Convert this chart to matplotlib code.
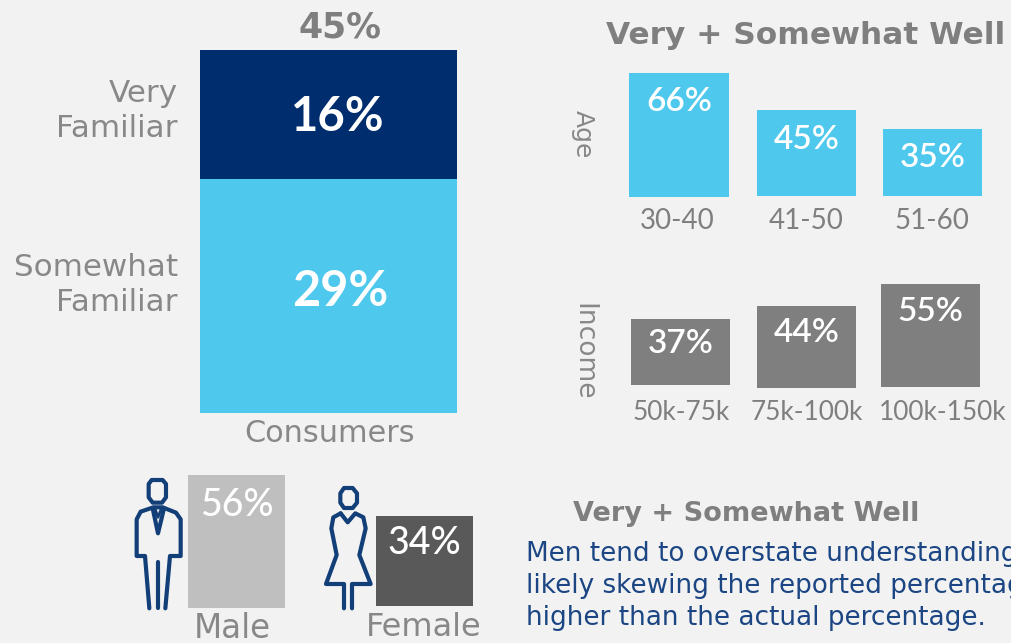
# Familiarity survey: stacked total plus breakdowns by age, income and gender

import matplotlib
matplotlib.use('Agg')
import matplotlib.pyplot as plt
from matplotlib.path import Path
from matplotlib.patches import PathPatch

W, H = 1012, 643
BG = '#F2F2F2'
NAVY = '#002D6E'
SKY = '#4FC8EE'
GREY = '#7F7F7F'
THIN_GREY = '#888888'
ICON = '#123F77'
WIDE = 'DejaVu Sans'
NUM = 'Lato'

familiar_labels = ['Somewhat\nFamiliar', 'Very\nFamiliar']
familiar_values = [29, 16]
familiar_total = 45

age_groups = ['30-40', '41-50', '51-60']
age_values = [66, 45, 35]
income_groups = ['50k-75k', '75k-100k', '100k-150k']
income_values = [37, 44, 55]
gender_groups = ['Male', 'Female']
gender_values = [56, 34]

note_lines = ['Men tend to overstate understanding,',
              'likely skewing the reported percentage',
              'higher than the actual percentage.']

fig = plt.figure(figsize=(W / 100, H / 100), dpi=100, facecolor=BG)

# overlay in pixel units, y pointing down, for text and the two icons
page = fig.add_axes([0, 0, 1, 1], zorder=5)
page.set_xlim(0, W)
page.set_ylim(H, 0)
page.axis('off')


def value_axes(left, right, base, scale, top_value):
    """Axes whose y unit is `scale` pixels per percentage point."""
    height = top_value * scale
    ax = fig.add_axes([left / W, 1 - base / H, (right - left) / W, height / H])
    ax.set_xlim(0, 1)
    ax.set_ylim(0, top_value)
    ax.axis('off')
    return ax


def single_bar(left, right, base, scale, value, color, text_y, size=24, weight='semibold'):
    ax = value_axes(left, right, base, scale, value)
    ax.bar(0.5, value, width=1, color=color)
    page.text((left + right) / 2, text_y, f'{value}%', color='white', fontsize=size,
              fontweight=weight, family=NUM, ha='center', va='center')


def label(x, y, s, size, ha='center', color=GREY, family=WIDE, **kw):
    page.text(x, y, s, fontsize=size, ha=ha, va='center', color=color, family=family, **kw)


def outline(points, closed=False, lw=3.0):
    # icon coordinates are on a 3x grid offset from the page corner
    pts = [(120 + x / 3, 460 + y / 3) for x, y in points]
    codes = [Path.MOVETO] + [Path.LINETO] * (len(pts) - 1)
    if closed:
        pts.append(pts[0])
        codes.append(Path.CLOSEPOLY)
    page.add_patch(PathPatch(Path(pts, codes), fill=False, ec=ICON, lw=lw,
                             capstyle='round', joinstyle='round'))


# main stacked column
main = value_axes(200, 457, 413, 8.07, familiar_total)
main.bar(0.5, familiar_values[0], width=1, color=SKY)
main.bar(0.5, familiar_values[1], width=1, bottom=familiar_values[0], color=NAVY)
page.text(338, 117, f'{familiar_values[1]}%', color='white', fontsize=34, fontweight='bold',
          family=NUM, ha='center', va='center')
page.text(340, 292, f'{familiar_values[0]}%', color='white', fontsize=35, fontweight='bold',
          family=NUM, ha='center', va='center')
label(340, 27, f'{familiar_total}%', 25, fontweight='bold')
label(178, 111, familiar_labels[1], 22.3, ha='right', color=THIN_GREY, linespacing=1.3)
label(178, 285, familiar_labels[0], 22.3, ha='right', color=THIN_GREY, linespacing=1.3)
label(330, 433, 'Consumers', 21.8, color=THIN_GREY)

# age breakdown
label(806, 36, 'Very + Somewhat Well', 22.5, fontweight='bold')
age_boxes = [(629, 729, 197, 1.88, 102), (757, 856, 196, 1.91, 140), (883, 982, 196, 1.91, 158)]
for v, g, (l, r, b, s, ty), cx in zip(age_values, age_groups, age_boxes, [677, 806, 932]):
    single_bar(l, r, b, s, v, SKY, ty)
    label(cx, 221, g, 20, family=NUM)
label(583, 134, 'Age', 18, rotation=-90, color=THIN_GREY)

# income breakdown
income_boxes = [(631, 730, 385, 1.78, 344), (757, 856, 388, 1.86, 333), (881, 980, 387, 1.87, 312)]
for v, g, (l, r, b, s, ty), cx in zip(income_values, income_groups, income_boxes, [681, 807, 943]):
    single_bar(l, r, b, s, v, GREY, ty)
    label(cx, 412, g, 18.9, family=NUM)
label(583, 352, 'Income', 19, rotation=-90, color=THIN_GREY)

# gender breakdown
single_bar(188, 285, 608, 2.375, gender_values[0], '#BFBFBF', 505, size=27, weight='medium')
single_bar(376, 473, 606, 2.65, gender_values[1], '#595959', 543, size=27, weight='medium')
label(232, 628, gender_groups[0], 23.5, color=THIN_GREY)
label(424, 628, gender_groups[1], 23, color=THIN_GREY)

# male icon
outline([(95, 60), (128, 60), (138, 72), (138, 112), (126, 128), (98, 128), (86, 112), (86, 72)], closed=True)
outline([(88, 445), (75, 288), (50, 288), (50, 178), (62, 155), (100, 142), (128, 142),
         (168, 158), (182, 178), (182, 288), (150, 288), (136, 445)])
outline([(98, 145), (114, 220), (132, 145)])
outline([(114, 305), (114, 445)])
outline([(105, 146), (114, 172), (124, 146)], lw=2)

# female icon
outline([(672, 84), (698, 84), (711, 100), (711, 128), (698, 144), (672, 144), (661, 128), (661, 100)], closed=True)
outline([(662, 160), (683, 187), (706, 160), (730, 172), (737, 205), (718, 285), (752, 372),
         (696, 372), (696, 445)])
outline([(662, 160), (640, 172), (634, 205), (650, 285), (618, 372), (672, 372), (672, 445)])

# commentary
label(746, 514, 'Very + Somewhat Well', 19.5, fontweight='bold')
for y, line in zip([554, 586, 618], note_lines):
    label(526, y, line, 18.9, ha='left', color='#1B4583')

fig.savefig('out.png', dpi=100, facecolor=BG)
